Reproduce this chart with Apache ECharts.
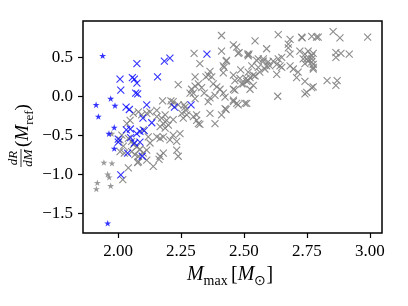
<!DOCTYPE html>
<html><head><meta charset="utf-8">
<script src="https://cdn.jsdelivr.net/npm/echarts@6/dist/echarts.min.js"></script>
<style>html,body{margin:0;padding:0;background:#fff}#c{width:408px;height:306px}</style>
</head><body><div id="c"></div>
<script>
const xTicks = [2.00, 2.25, 2.50, 2.75, 3.00];
const yTicks = [-1.5, -1.0, -0.5, 0.0, 0.5];

const grayCross = [
[2.048,-0.31],[2.061,-0.22],[2.081,-0.20],[2.094,-0.24],[2.114,-0.22],[2.127,-0.20],[2.154,-0.26],[2.173,-0.28],[2.193,-0.31],[2.180,-0.35],
[2.035,-0.35],[2.015,-0.50],[2.008,-0.56],[2.021,-0.64],[2.041,-0.54],[2.054,-0.58],[2.061,-0.62],[2.074,-0.65],[2.087,-0.68],[2.054,-0.71],
[2.067,-0.75],[2.081,-0.77],[2.100,-0.73],[2.114,-0.69],[2.127,-0.60],[2.154,-0.52],[2.167,-0.54],[2.180,-0.52],[2.206,-0.56],[2.219,-0.50],
[2.233,-0.58],[2.246,-0.48],[2.167,-0.77],[2.180,-0.73],[2.140,-0.90],[2.114,-0.82],[2.081,-0.84],[2.041,-0.92],[2.019,-1.07],[2.233,-0.69],
[2.239,-0.77],[2.100,-0.43],[2.120,-0.52],[2.167,-0.39],[2.187,-0.41],[2.200,-0.37],[2.259,-0.28],[2.273,-0.24],[2.299,-0.26],[2.319,-0.35],
[2.385,-0.35],[2.411,-0.24],[2.365,-0.22],[2.177,-0.06],[2.210,-0.06],[2.154,-0.18],[2.239,-0.11],[2.266,-0.14],[2.187,-0.24],[2.312,-0.24],
[2.219,-0.30],[2.253,-0.22],[2.270,-0.18],[2.312,-0.31],[2.325,-0.36],[2.429,-0.17],[2.213,-0.11],[2.262,-0.11],[2.219,-0.07],
[2.008,-0.71],[2.025,-0.73],[2.078,-0.85],[2.163,-0.81],
[2.302,0.55],[2.325,0.42],[2.411,0.58],[2.477,0.55],[2.517,0.52],[2.418,0.39],[2.429,0.45],[2.421,0.37],[2.365,0.32],[2.358,0.27],
[2.349,0.25],[2.372,0.25],[2.306,0.25],[2.418,0.30],[2.458,0.27],[2.487,0.34],[2.508,0.23],[2.484,0.23],[2.464,0.20],[2.239,0.15],
[2.319,0.16],[2.306,0.13],[2.292,0.09],[2.286,0.04],[2.299,0.04],[2.332,0.11],[2.342,0.04],[2.378,0.16],[2.392,0.12],[2.405,0.09],
[2.418,0.04],[2.385,0.01],[2.365,-0.02],[2.458,0.09],[2.491,0.16],[2.511,0.19],[2.306,-0.03],[2.358,-0.07],[2.425,-0.01],[2.458,-0.07],
[2.477,-0.11],[2.511,-0.09],[2.411,0.78],[2.458,0.66],[2.471,0.63],[2.481,0.56],[2.515,0.54],[2.431,0.46],[2.425,-0.16],
[2.636,0.79],[2.544,0.71],[2.590,0.61],[2.683,0.73],[2.676,0.67],[2.676,0.62],[2.731,0.75],[2.769,0.77],[2.520,0.54],[2.683,0.54],
[2.722,0.58],[2.742,0.54],[2.755,0.58],[2.769,0.52],[2.735,0.48],[2.755,0.45],[2.775,0.41],[2.557,0.48],[2.577,0.45],[2.596,0.44],
[2.616,0.45],[2.636,0.48],[2.650,0.50],[2.590,0.39],[2.630,0.41],[2.650,0.37],[2.683,0.39],[2.696,0.35],[2.715,0.31],[2.709,0.24],
[2.742,0.19],[2.769,0.11],[2.742,0.03],[2.749,0.05],[2.583,0.35],[2.630,0.28],[2.531,0.39],[2.557,0.37],[2.517,0.31],[2.524,0.24],
[2.537,0.14],[2.524,0.09],[2.634,0.00],[2.544,0.26],[2.563,0.31],[2.795,0.76],[2.854,0.83],[2.881,0.75],[2.991,0.76],[2.865,0.56],
[2.885,0.55],[2.918,0.54],[2.865,0.50],[2.749,0.48],[2.769,0.44],[2.775,0.35],[2.742,0.42],[2.830,0.20],[2.870,0.20],[2.865,0.14],
[2.497,0.16],[2.464,0.08],[2.458,-0.05],[2.471,-0.09],[2.504,-0.09],[2.603,0.39],[2.643,0.39],[2.537,0.27],[2.517,0.20],[2.788,0.76],
[2.775,0.55],[2.769,0.48],[2.775,0.37],[2.775,0.12],[2.577,0.48],[2.550,0.46],[2.729,0.76]
];

const blueCross = [
[2.075,0.42],[2.184,0.45],[2.206,0.49],[2.008,0.22],[2.057,0.24],[2.065,0.22],[2.075,0.17],[2.157,0.25],[2.011,0.08],[2.070,0.04],
[2.078,0.03],[2.032,-0.14],[2.045,-0.17],[2.114,-0.11],[2.099,-0.28],[2.134,-0.34],[2.353,0.54],[2.224,-0.14],[2.290,-0.11],[2.033,-0.43],
[2.049,-0.42],[2.074,-0.48],[2.087,-0.45],[2.104,-0.44],[2.001,-0.55],[2.001,-0.59],[2.050,-0.53],[2.065,-0.60],[2.087,-0.59],[2.038,-0.73],
[2.096,-0.77],[2.011,-1.01]
];

const grayStar = [
[1.944,-0.85],[1.976,-0.86],[1.959,-1.00],[1.965,-1.04],[1.971,-1.15],[1.918,-1.11],[1.914,-1.19],[1.975,-0.48]
];

const blueStar = [
[1.939,0.52],[1.971,-0.03],[1.988,-0.12],[1.913,-0.11],[1.922,-0.26],[1.985,-0.40],[1.964,-0.48],[1.985,-0.67],[1.959,-1.63]
];

const crossPath = 'path://M0,0L10,10M10,0L0,10';
const starPath = 'path://M50,0L61.2,34.5L97.6,34.5L68.2,55.9L79.4,90.5L50,69.1L20.6,90.5L31.8,55.9L2.4,34.5L38.8,34.5Z';
const SERIF = 'Liberation Serif';
const minus = v => (v < 0 ? '\u2212' : '') + Math.abs(v).toFixed(1);

const chart = echarts.init(document.getElementById('c'), null, {renderer: 'canvas'});
chart.setOption({
  animation: false,
  backgroundColor: '#fff',
  textStyle: {fontFamily: SERIF},
  grid: {left: 83, top: 21, width: 299, height: 212, show: true, borderColor: '#000', borderWidth: 1.5, backgroundColor: 'transparent'},
  xAxis: {
    type: 'value', min: 1.861, max: 3.048,
    axisLine: {show: false, onZero: false}, splitLine: {show: false},
    axisTick: {show: true, inside: false, length: 5, customValues: xTicks, lineStyle: {color: '#000', width: 1.2}},
    axisLabel: {show: true, margin: 10, customValues: xTicks, formatter: v => v.toFixed(2), color: '#000', fontFamily: SERIF, fontSize: 17}
  },
  yAxis: {
    type: 'value', min: -1.755, max: 0.966,
    axisLine: {show: false, onZero: false}, splitLine: {show: false},
    axisTick: {show: true, inside: false, length: 5, customValues: yTicks, lineStyle: {color: '#000', width: 1.2}},
    axisLabel: {show: true, margin: 10, customValues: yTicks, formatter: minus, color: '#000', fontFamily: SERIF, fontSize: 17}
  },
  series: [
    {type: 'scatter', data: grayCross, symbol: crossPath, symbolSize: 7, itemStyle: {color: 'rgba(0,0,0,0)', borderColor: '#808080', borderWidth: 1.1, opacity: 0.9}},
    {type: 'scatter', data: grayStar, symbol: starPath, symbolKeepAspect: true, symbolSize: 7, itemStyle: {color: '#808080'}},
    {type: 'scatter', data: blueCross, symbol: crossPath, symbolSize: 7, itemStyle: {color: 'rgba(0,0,0,0)', borderColor: '#0000ff', borderWidth: 1.1}},
    {type: 'scatter', data: blueStar, symbol: starPath, symbolKeepAspect: true, symbolSize: 7, itemStyle: {color: '#0000ff'}}
  ],
  graphic: [
    {
      type: 'text', x: 230, y: 275,
      style: {
        text: '{i|M}{s|max} {n|[}{i|M}{s|\u2299}{n|]}',
        align: 'center', verticalAlign: 'middle', fill: '#000',
        rich: {
          i: {fontFamily: SERIF, fontStyle: 'italic', fontSize: 20, lineHeight: 26, verticalAlign: 'middle'},
          n: {fontFamily: SERIF, fontSize: 20, lineHeight: 26, verticalAlign: 'middle'},
          s: {fontFamily: SERIF, fontSize: 14, lineHeight: 14, verticalAlign: 'bottom'}
        }
      }
    },
    {
      type: 'group', x: 21, y: 128, rotation: Math.PI / 2,
      children: [
        {type: 'text', x: -30, y: -1, style: {text: 'dR', fontFamily: SERIF, fontStyle: 'italic', fontSize: 13, align: 'center', verticalAlign: 'bottom', fill: '#000'}},
        {type: 'line', shape: {x1: -39, y1: 0, x2: -21, y2: 0}, style: {stroke: '#000', lineWidth: 0.8}},
        {type: 'text', x: -30, y: 1, style: {text: 'dM', fontFamily: SERIF, fontStyle: 'italic', fontSize: 13, align: 'center', verticalAlign: 'top', fill: '#000'}},
        {type: 'text', x: -19, y: 2, style: {
          text: '{n|(}{i|M}{s|ref}{n|)}', align: 'left', verticalAlign: 'middle', fill: '#000',
          rich: {
            i: {fontFamily: SERIF, fontStyle: 'italic', fontSize: 19, lineHeight: 26, verticalAlign: 'middle'},
            n: {fontFamily: SERIF, fontSize: 19, lineHeight: 26, verticalAlign: 'middle'},
            s: {fontFamily: SERIF, fontSize: 13, lineHeight: 13, verticalAlign: 'bottom'}
          }
        }}
      ]
    }
  ]
});
</script></body></html>
